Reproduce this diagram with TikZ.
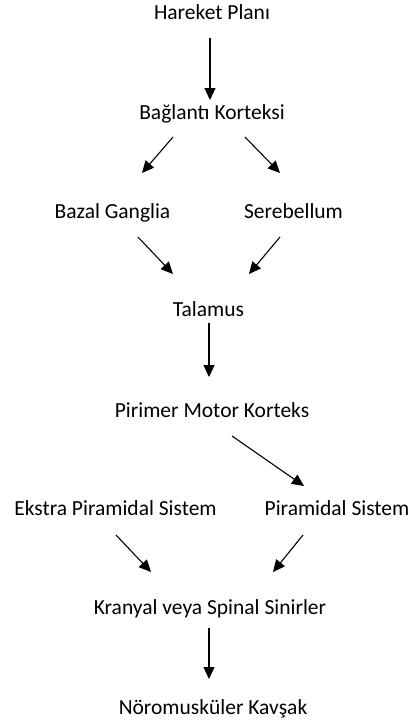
\documentclass[tikz,border=0pt]{standalone}
\usepackage{fontspec}
\setmainfont{Carlito}
\usepackage{tikz}
\usetikzlibrary{arrows.meta}
\tikzset{
	lbl/.style={anchor=base, inner sep=0pt, font=\fontsize{21.5}{24}\selectfont, text=black},
	arr/.style={-{Triangle[width=11pt,length=12pt]}, line width=1.1pt, black}
}
\begin{document}
\begin{tikzpicture}[x=1pt,y=1pt]
			\useasboundingbox (0,0) rectangle (411,-724);
			\node[lbl] (hp) at (212,-19) {Hareket Planı};
			\node[lbl] (bk) at (212,-119) {Bağlantı Korteksi};
			\node[lbl] (baz) at (112.5,-218) {Bazal Ganglia};
			\node[lbl] (ser) at (293.5,-218) {Serebellum};
			\node[lbl] (tal) at (208.5,-316) {Talamus};
			\node[lbl] (pmk) at (212,-417) {Pirimer Motor Korteks};
			\node[lbl] (eps) at (115.5,-515) {Ekstra Piramidal Sistem};
			\node[lbl] (ps) at (337,-515) {Piramidal Sistem};
			\node[lbl] (kvs) at (210,-614) {Kranyal veya Spinal Sinirler};
			\node[lbl] (nk) at (213,-714) {Nöromusküler Kavşak};
			\draw[arr] ([shift={(-2,-19)}]hp.base) -- ([shift={(-2,19)}]bk.base);
			\draw[arr] ([shift={(-39,-18)}]bk.base) -- ([shift={(29.5,45)}]baz.base);
			\draw[arr] ([shift={(33,-18)}]bk.base) -- ([shift={(-13.5,45)}]ser.base);
			\draw[arr] ([shift={(25.5,-19)}]baz.base) -- ([shift={(-35.5,42)}]tal.base);
			\draw[arr] ([shift={(-13.5,-19)}]ser.base) -- ([shift={(40.5,42)}]tal.base);
			\draw[arr] ([shift={(0.5,-7)}]tal.base) -- ([shift={(-3,40)}]pmk.base);
			\draw[arr] ([shift={(20,-19)}]pmk.base) -- ([shift={(-33,29)}]ps.base);
			\draw[arr] ([shift={(0.5,-20)}]eps.base) -- ([shift={(-59,42)}]kvs.base);
			\draw[arr] ([shift={(-34,-20)}]ps.base) -- ([shift={(63,42)}]kvs.base);
			\draw[arr] ([shift={(-1,-14)}]kvs.base) -- ([shift={(-4,35)}]nk.base);
\end{tikzpicture}
\end{document}
